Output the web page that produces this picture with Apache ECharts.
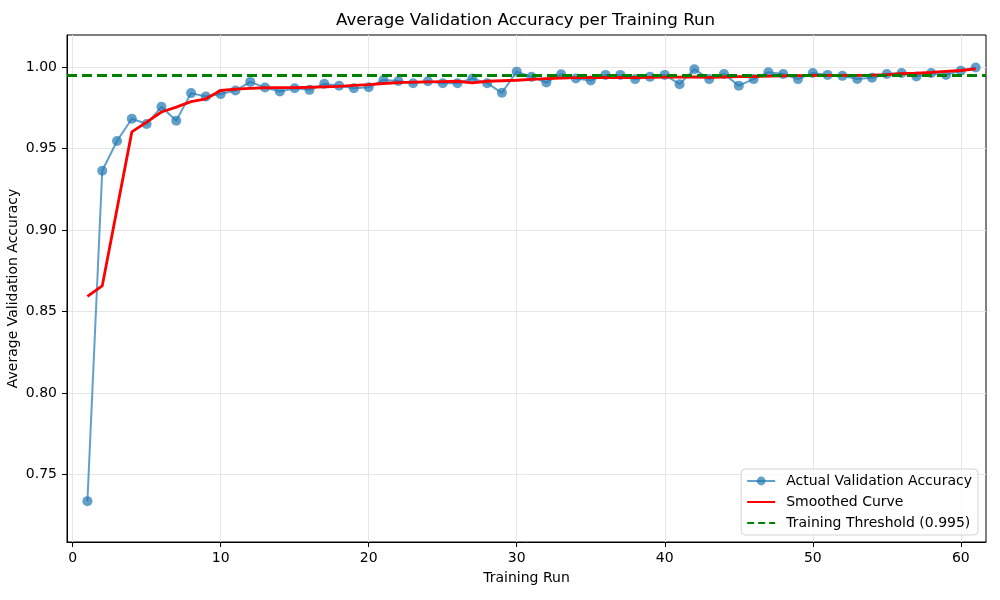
<!DOCTYPE html>
<html>
<head>
<meta charset="utf-8">
<title>Average Validation Accuracy per Training Run</title>
<script src="https://cdn.jsdelivr.net/npm/echarts@6/dist/echarts.min.js"></script>
<style>
  html, body { margin: 0; padding: 0; background: #fff; }
  #chart { width: 1000px; height: 600px; }
</style>
</head>
<body>
<div id="chart"></div>
<script>
// values
var actual = [
  0.7335, 0.9364, 0.9547, 0.9684, 0.9651, 0.9757, 0.9671, 0.9841, 0.9820, 0.9835,
  0.9857, 0.9910, 0.9875, 0.9851, 0.9871, 0.9861, 0.9898, 0.9886, 0.9871, 0.9877,
  0.9922, 0.9916, 0.9902, 0.9914, 0.9902, 0.9902, 0.9931, 0.9902, 0.9843, 0.9973,
  0.9941, 0.9906, 0.9957, 0.9931, 0.9918, 0.9953, 0.9953, 0.9927, 0.9941, 0.9953,
  0.9896, 0.9988, 0.9927, 0.9959, 0.9887, 0.9927, 0.9969, 0.9959, 0.9927, 0.9965,
  0.9953, 0.9947, 0.9928, 0.9936, 0.9959, 0.9965, 0.9943, 0.9965, 0.9953, 0.9979,
  0.9998
];
var smoothed = [
  0.8592, 0.8657, 0.9130, 0.9603, 0.9663, 0.9725, 0.9755, 0.9789, 0.9806, 0.9857,
  0.9865, 0.9870, 0.9874, 0.9875, 0.9875, 0.9877, 0.9880, 0.9882, 0.9888, 0.9893,
  0.9900, 0.9905, 0.9908, 0.9910, 0.9912, 0.9914, 0.9904, 0.9914, 0.9917, 0.9920,
  0.9925, 0.9930, 0.9934, 0.9936, 0.9937, 0.9937, 0.9937, 0.9937, 0.9938, 0.9939,
  0.9939, 0.9940, 0.9938, 0.9940, 0.9942, 0.9943, 0.9945, 0.9947, 0.9949, 0.9950,
  0.9950, 0.9950, 0.9950, 0.9951, 0.9955, 0.9960, 0.9963, 0.9968, 0.9975, 0.9980,
  0.9990
];
var threshold = 0.995;
var runs = actual.map(function (v, i) { return i + 1; });
var xTicks = [0, 10, 20, 30, 40, 50, 60];
var yTicks = [0.75, 0.80, 0.85, 0.90, 0.95, 1.00];

var font = 'DejaVu Sans';
var fs = 14;

function pairs(ys) {
  return ys.map(function (y, i) { return [runs[i], y]; });
}

var myChart = echarts.init(document.getElementById('chart'), null, { renderer: 'canvas' });

var option = {
  animation: false,
  backgroundColor: '#fff',
  textStyle: { fontFamily: font, color: '#000' },
  title: {
    text: 'Average Validation Accuracy per Training Run',
    left: 336,
    top: 12,
    padding: 0,
    textStyle: { fontFamily: font, fontSize: 16.7, fontWeight: 'normal', color: '#000' }
  },
  grid: {
    left: 67, right: 14, top: 35, bottom: 58,
    outerBoundsMode: 'none',
    containLabel: false,
    show: true, borderColor: '#000', borderWidth: 1, backgroundColor: 'transparent'
  },
  legend: {
    orient: 'vertical',
    right: 22,
    bottom: 65,
    itemWidth: 28,
    itemHeight: 11,
    itemGap: 7,
    padding: [5, 6, 5, 5],
    borderColor: '#d4d4d4',
    borderWidth: 1,
    borderRadius: 4,
    backgroundColor: 'rgba(255,255,255,0.8)',
    textStyle: { fontFamily: font, fontSize: fs, color: '#000', padding: [0, 0, 0, 6] },
    data: [
      { name: 'Actual Validation Accuracy' },
      { name: 'Smoothed Curve', itemStyle: { opacity: 0 } },
      { name: 'Training Threshold (0.995)', itemStyle: { opacity: 0 } }
    ]
  },
  xAxis: {
    type: 'value',
    min: -0.38,
    max: 61.7,
    name: 'Training Run',
    nameLocation: 'middle',
    nameGap: 29,
    nameMoveOverlap: false,
    nameTextStyle: { fontFamily: font, fontSize: fs, color: '#000' },
    axisLine: { show: true, onZero: false, lineStyle: { color: '#000', width: 1 } },
    axisTick: { show: true, length: 5, customValues: xTicks, lineStyle: { color: '#000' } },
    axisLabel: { customValues: xTicks, margin: 9, fontFamily: font, fontSize: fs, color: '#000' },
    splitLine: { show: true, lineStyle: { color: '#e6e6e6', width: 1 } }
  },
  yAxis: {
    type: 'value',
    min: 0.7084,
    max: 1.0198,
    name: 'Average Validation Accuracy',
    nameLocation: 'middle',
    nameGap: 47,
    nameMoveOverlap: false,
    nameTextStyle: { fontFamily: font, fontSize: fs, color: '#000' },
    axisLine: { show: true, onZero: false, lineStyle: { color: '#000', width: 1 } },
    axisTick: { show: true, length: 5, customValues: yTicks, lineStyle: { color: '#000' } },
    axisLabel: {
      customValues: yTicks, margin: 10, fontFamily: font, fontSize: fs, color: '#000',
      formatter: function (v) { return v.toFixed(2); }
    },
    splitLine: { show: true, lineStyle: { color: '#e6e6e6', width: 1 } }
  },
  series: [
    {
      name: 'Actual Validation Accuracy',
      type: 'line',
      data: pairs(actual),
      z: 2,
      symbol: 'circle',
      symbolSize: 10,
      showAllSymbol: true,
      color: '#1f77b4',
      itemStyle: { color: '#1f77b4', opacity: 0.7 },
      lineStyle: { color: '#1f77b4', width: 2, opacity: 0.7 },
      emphasis: { disabled: true },
      // threshold drawn as a marker line of this series, above the other lines
      markLine: {
        silent: true,
        z: 10,
        precision: 4, // default of 2 would round 0.995 down to 0.99
        symbol: 'none',
        label: { show: false },
        emphasis: { disabled: true },
        lineStyle: { color: '#008000', width: 2.8, type: [10, 5], opacity: 1 },
        data: [{ yAxis: threshold }]
      }
    },
    {
      name: 'Smoothed Curve',
      type: 'line',
      data: pairs(smoothed),
      z: 3,
      symbol: 'none',
      color: '#ff0000',
      lineStyle: { color: '#ff0000', width: 2.8 },
      emphasis: { disabled: true }
    },
    {
      // legend entry for the threshold line
      name: 'Training Threshold (0.995)',
      type: 'line',
      data: [],
      z: 4,
      symbol: 'none',
      color: '#008000',
      lineStyle: { color: '#008000', width: 2.8, type: [7, 4] }
    }
  ]
};

myChart.setOption(option);
</script>
</body>
</html>
